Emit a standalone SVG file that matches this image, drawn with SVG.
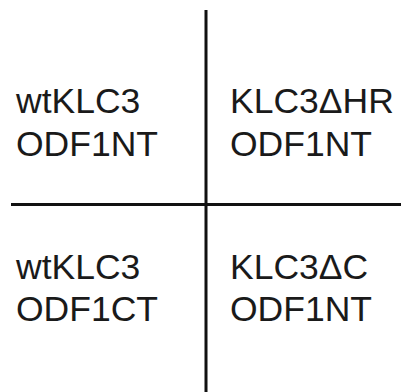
<svg xmlns="http://www.w3.org/2000/svg" width="401" height="392" viewBox="0 0 401 392">
  <style>
    .lbl { font-family: "Liberation Sans", Arial, sans-serif; font-size: 35.5px; fill: #1a1a1a; }
    .axis { stroke: #111; stroke-width: 3; fill: none; }
  </style>
  <rect width="401" height="392" fill="#fff"/>
  <g id="connectors">
    <line class="axis" x1="206" y1="10" x2="206" y2="392"/>
    <line class="axis" x1="11" y1="204.5" x2="401" y2="204.5"/>
  </g>
  <g id="q-top-left">
    <text class="lbl" x="16" y="113">wtKLC3</text>
    <text class="lbl" x="16" y="156">ODF1NT</text>
  </g>
  <g id="q-top-right">
    <text class="lbl" x="230" y="113">KLC3ΔHR</text>
    <text class="lbl" x="230" y="156">ODF1NT</text>
  </g>
  <g id="q-bottom-left">
    <text class="lbl" x="16" y="279">wtKLC3</text>
    <text class="lbl" x="16" y="321">ODF1CT</text>
  </g>
  <g id="q-bottom-right">
    <text class="lbl" x="230" y="279">KLC3ΔC</text>
    <text class="lbl" x="230" y="321">ODF1NT</text>
  </g>
</svg>
